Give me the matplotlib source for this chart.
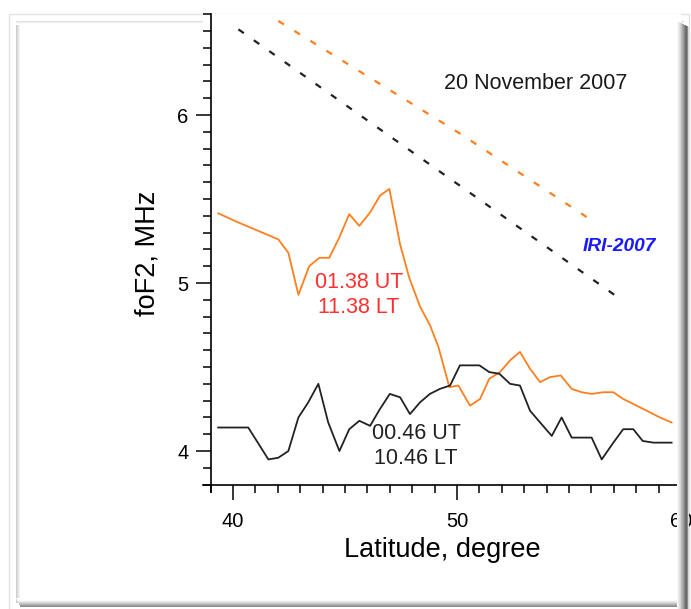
import matplotlib
matplotlib.use("Agg")
import matplotlib.pyplot as plt
from matplotlib.patches import Rectangle
from matplotlib.ticker import MultipleLocator

plt.rcParams["font.family"] = ["Liberation Sans", "DejaVu Sans"]

# foF2 along the track, 01.38 UT (orange)
lat_day = [39.34, 40.16, 42.02, 42.47, 42.92, 43.40, 43.85, 44.30, 44.74, 45.19,
           45.64, 46.12, 46.56, 46.98, 47.46, 47.87, 48.35, 48.79, 49.17, 49.66,
           50.06, 50.58, 51.03, 51.44, 51.92, 52.37, 52.81, 53.26, 53.71, 54.15,
           54.63, 55.12, 55.57, 56.01, 56.53, 56.98, 57.42, 57.87, 58.47, 59.06,
           59.58]
fof2_day = [5.415, 5.365, 5.26, 5.18, 4.93, 5.10, 5.15, 5.15, 5.27, 5.41,
            5.34, 5.42, 5.52, 5.56, 5.23, 5.03, 4.86, 4.75, 4.62, 4.38,
            4.39, 4.27, 4.31, 4.43, 4.47, 4.54, 4.59, 4.49, 4.41, 4.44,
            4.45, 4.37, 4.35, 4.34, 4.35, 4.35, 4.31, 4.28, 4.24, 4.20,
            4.17]

# foF2 along the track, 00.46 UT (black)
lat_night = [39.34, 40.68, 41.58, 42.02, 42.47, 42.92, 43.36, 43.81, 44.25, 44.75,
             45.19, 45.64, 46.12, 46.56, 47.00, 47.46, 47.90, 48.35, 48.79, 49.24,
             49.69, 50.13, 50.58, 51.00, 51.44, 51.89, 52.37, 52.81, 53.26, 53.71,
             54.23, 54.67, 55.12, 55.57, 56.01, 56.46, 56.98, 57.42, 57.87, 58.29,
             58.77, 59.58]
fof2_night = [4.14, 4.14, 3.95, 3.96, 4.00, 4.20, 4.29, 4.40, 4.17, 4.00,
              4.13, 4.18, 4.15, 4.25, 4.34, 4.32, 4.22, 4.29, 4.34, 4.37,
              4.39, 4.51, 4.51, 4.51, 4.47, 4.46, 4.40, 4.39, 4.24, 4.17,
              4.09, 4.20, 4.08, 4.08, 4.08, 3.95, 4.05, 4.13, 4.13, 4.06,
              4.05, 4.05]

# IRI-2007 model values
iri_lat_day = [42.02, 50.13, 56.16]
iri_day = [6.56, 5.89, 5.36]
iri_lat_night = [40.24, 48.05, 57.13]
iri_night = [6.51, 5.775, 4.92]

ORANGE = "#ff7f1e"
DARK = "#222222"

W, H = 691, 609
fig = plt.figure(figsize=(W / 100, H / 100), dpi=100)


def px_rect(x0, y0, x1, y1, **kw):
    return Rectangle((x0 / W, 1 - y1 / H), (x1 - x0) / W, (y1 - y0) / H,
                     transform=fig.transFigure, **kw)


# framed picture look
fig.add_artist(px_rect(9, 14, 689, 612, fill=False, edgecolor="#e2e2e2", lw=1.0, zorder=-1))
for i, g in enumerate([0.80, 0.86, 0.91, 0.95]):
    fig.add_artist(px_rect(16 + i, 21, 17 + i, 603, color=str(g), lw=0, zorder=-1))
    fig.add_artist(px_rect(16, 21 + i, 684, 22 + i, color=str(min(g + 0.08, 1)), lw=0, zorder=-1))

ax = fig.add_axes([203 / W, 1 - 491.7 / H, (681 - 203) / W, (491.7 - 14.2) / H])

ax.plot(iri_lat_day, iri_day, color=ORANGE, lw=1.6, linestyle=(0, (3, 5.5)))
ax.plot(iri_lat_night, iri_night, color=DARK, lw=1.6, linestyle=(0, (3, 5.5)))
ax.plot(lat_day, fof2_day, color=ORANGE, lw=1.3)
ax.plot(lat_night, fof2_night, color=DARK, lw=1.3)

ax.set_xlim(38.66, 60)
ax.set_ylim(3.758, 6.6)
ax.spines["left"].set_position(("data", 39.0))
ax.spines["bottom"].set_position(("data", 3.8))
ax.spines["top"].set_visible(False)
ax.spines["right"].set_visible(False)
for s in ("left", "bottom"):
    ax.spines[s].set_linewidth(1.2)

ax.xaxis.set_major_locator(MultipleLocator(10))
ax.xaxis.set_minor_locator(MultipleLocator(1))
ax.yaxis.set_major_locator(MultipleLocator(1))
ax.yaxis.set_minor_locator(MultipleLocator(0.1))
ax.tick_params(which="major", length=11, width=1.1, labelsize=14.5, pad=5)
ax.tick_params(which="minor", length=5.5, width=1.1)
ax.tick_params(axis="x", which="major", pad=9)

ax.set_xlabel("Latitude, degree", fontsize=19.5, labelpad=4)
ax.set_ylabel("foF2, MHz", fontsize=19.5, labelpad=12)

ax.text(0.695, 0.854, "20 November 2007", fontsize=15.5, ha="center", va="center",
        color="#1a1a1a", transform=ax.transAxes)
ax.text(45.63, 4.93, "01.38 UT\n11.38 LT", fontsize=15.5, ha="center", va="center",
        color="#ff3030", linespacing=1.25)
ax.text(48.18, 4.03, "00.46 UT\n10.46 LT", fontsize=15.5, ha="center", va="center",
        color=DARK, linespacing=1.25)
ax.text(57.23, 5.216, "IRI-2007", fontsize=13.8, ha="center", va="center",
        color="#1a1aff", fontweight="bold", fontstyle="italic")

# right and bottom shadow of the frame, drawn over the axes
shades = [0.97, 0.93, 0.88, 0.82, 0.75, 0.68, 0.60, 0.52, 0.45, 0.40, 0.55, 0.85]
for i, g in enumerate(shades):
    fig.add_artist(px_rect(677 + i, 21 + i * 0.5, 678 + i, 609, color=str(g), lw=0, zorder=5))
for i, g in enumerate(shades[:9]):
    fig.add_artist(px_rect(16 + i * 0.5, 598 + i, 677, 599 + i, color=str(min(g + 0.1, 1)), lw=0, zorder=5))

fig.savefig("out.png", dpi=100)
